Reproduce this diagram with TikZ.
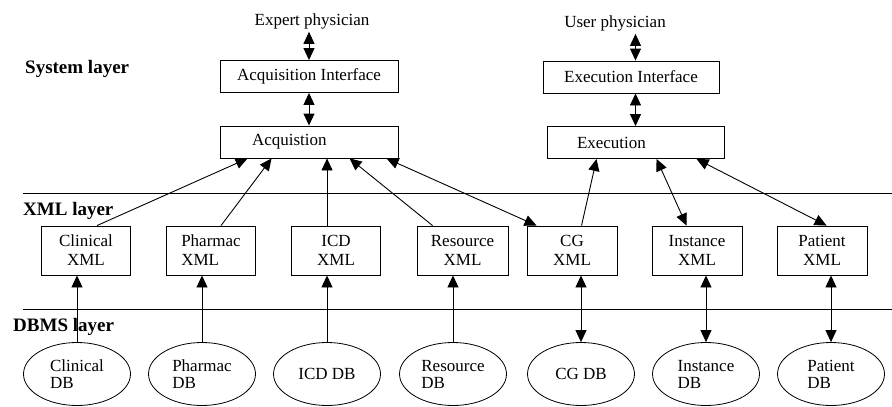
\documentclass[tikz,border=0pt]{standalone}
\usepackage{fontspec}
\setmainfont{Liberation Serif}
\usetikzlibrary{shapes.geometric,arrows.meta}
\begin{document}
\begin{tikzpicture}[x=1pt,y=-1pt,
  every node/.style={font=\fontsize{17}{19}\selectfont},
  box/.style={draw, line width=0.9pt, rectangle, inner sep=0pt, minimum width=89pt, minimum height=49pt, align=center},
  ibox/.style={draw, line width=0.9pt, rectangle, inner sep=0pt, minimum height=32pt, align=center},
  db/.style={draw, ellipse, line width=0.8pt, minimum width=107pt, minimum height=63pt, inner sep=0pt, align=left, font=\fontsize{17}{17}\selectfont},
  lay/.style={font=\fontsize{19}{21}\selectfont\bfseries, anchor=base west, inner sep=0pt},
  who/.style={anchor=base, inner sep=3pt},
  arr/.style={line width=0.9pt, -{Triangle[length=12pt,width=11pt]}},
  darr/.style={line width=0.9pt, {Triangle[length=12pt,width=11pt]}-{Triangle[length=12pt,width=11pt]}},
  layline/.style={line width=0.9pt}
]
\useasboundingbox (0,0) rectangle (892,407);

% layer separators and labels
\draw[layline] (23,193) -- (892,193);
\draw[layline] (23,309) -- (892,309);
\node[lay] (lsys) at (25,73) {System layer};
\node[lay] (lxml) at (23,215) {XML layer};
\node[lay] (ldb) at (13,331) {DBMS layer};

% system layer
\node[who] (ep) at (312,25) {Expert physician};
\node[who] (up) at (615,27) {User physician};
\node[ibox, minimum width=178pt] (aint) at (309,76.5) {Acquisition Interface};
\node[ibox, minimum width=178pt, text width=114pt, inner xsep=32pt, align=left] (acq) at (309,142) {Acquistion};
\node[ibox, minimum width=176pt] (eint) at (631,77) {Execution Interface};
\node[ibox, minimum width=177pt, text width=117pt, inner xsep=30pt, align=left] (exe) at (635.5,142.5) {Execution};

% XML layer
\node[box] (cx) at (86,250.5) {Clinical\\XML};
\node[box, align=left] (px) at (211,250.5) {Pharmac\\XML};
\node[box] (ix) at (336,250.5) {ICD\\XML};
\node[box, minimum width=91pt] (rx) at (462.5,250.5) {Resource\\XML};
\node[box, minimum width=90pt] (gx) at (572,250.5) {CG\\XML};
\node[box, minimum width=90pt] (nx) at (697,250.5) {Instance\\XML};
\node[box, minimum width=90pt] (tx) at (822,250.5) {Patient\\XML};

% DBMS layer
\node[db] (cd) at (77,374) {Clinical\\DB};
\node[db] (pd) at (202,374) {Pharmac\\DB};
\node[db] (id) at (327,374) {ICD DB};
\node[db] (rd) at (453,374) {Resource\\DB};
\node[db] (gd) at (581,374) {CG DB};
\node[db] (nd) at (706,374) {Instance\\DB};
\node[db] (td) at (831,374) {Patient\\DB};

% top connectors
\draw[darr] (aint.north -| acq.north) -- (acq.north |- ep.south);
\draw[darr] (acq.north) -- (acq.north |- aint.south);
\draw[darr] (exe.north |- eint.north) -- (exe.north |- up.south);
\draw[darr] (exe.north) -- (exe.north |- eint.south);

% XML -> system
\draw[arr] ([xshift=56pt]cx.north west) -- ([xshift=28pt]acq.south west);
\draw[arr] ([xshift=55pt]px.north west) -- ([xshift=52pt]acq.south west);
\draw[arr] ([xshift=36pt]ix.north west) -- ([xshift=36pt]ix.north west |- acq.south);
\draw[arr] ([xshift=16pt]rx.north west) -- ([xshift=130pt]acq.south west);
\draw[darr] ([xshift=167pt]acq.south west) -- ([xshift=10pt]gx.north west);
\draw[arr] ([xshift=55pt]gx.north west) -- ([xshift=50pt]exe.south west);
\draw[darr] ([xshift=110pt]exe.south west) -- ([xshift=35pt]nx.north west);
\draw[darr] ([xshift=150pt]exe.south west) -- ([xshift=50pt]tx.north west);

% DB -> XML
\draw[arr] (cd.north) -- (cd.north |- cx.south);
\draw[arr] (pd.north) -- (pd.north |- px.south);
\draw[arr] (id.north) -- (id.north |- ix.south);
\draw[arr] (rd.north) -- (rd.north |- rx.south);
\draw[darr] (gd.north) -- (gd.north |- gx.south);
\draw[darr] (nd.north) -- (nd.north |- nx.south);
\draw[darr] (td.north) -- (td.north |- tx.south);
\end{tikzpicture}
\end{document}
